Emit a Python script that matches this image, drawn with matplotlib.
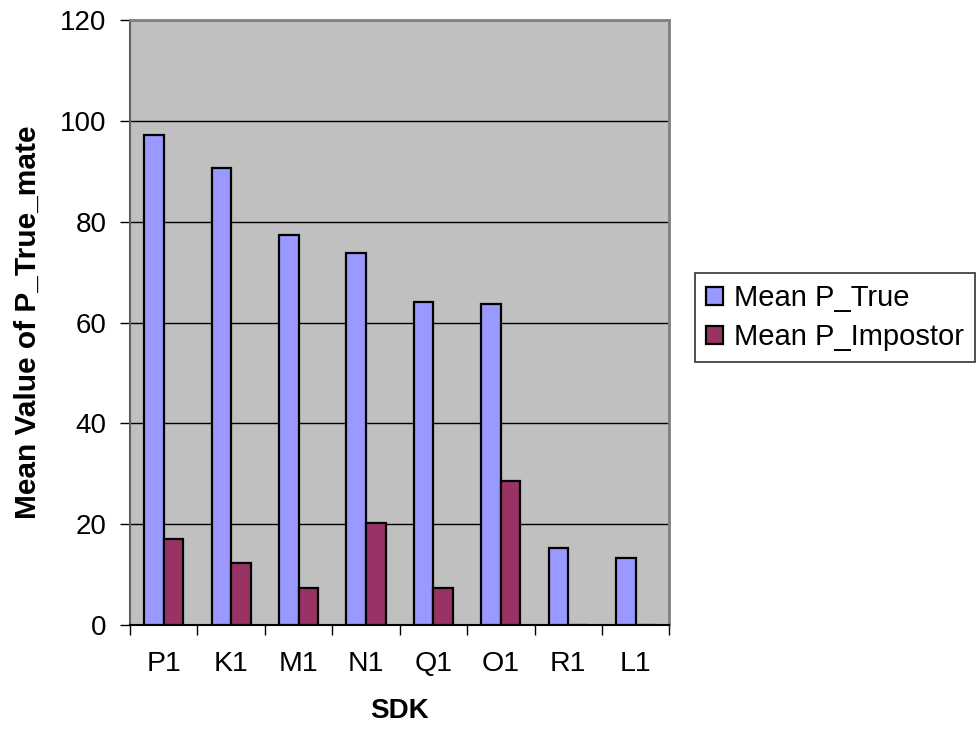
import numpy as np
import matplotlib
matplotlib.use("Agg")
import matplotlib.pyplot as plt

plt.rcParams['font.family'] = ['Liberation Sans', 'DejaVu Sans']

sdk = ["P1", "K1", "M1", "N1", "Q1", "O1", "R1", "L1"]
mean_true = [97.2, 90.7, 77.4, 73.8, 64.1, 63.6, 15.3, 13.4]
mean_impostor = [17.1, 12.4, 7.4, 20.2, 7.4, 28.5, 0, 0]

fig = plt.figure(figsize=(9.79, 7.38), dpi=100)
ax = fig.add_axes([0.1328, 0.153, 0.551, 0.820])

x = np.arange(len(sdk))
w = 0.29
ax.set_axisbelow(True)
ax.bar(x - w / 2, mean_true, w, color="#9999FF", edgecolor="black",
       linewidth=1.6, label="Mean P_True", zorder=3)
ax.bar(x + w / 2, mean_impostor, w, color="#993366", edgecolor="black",
       linewidth=1.6, label="Mean P_Impostor", zorder=3)

ax.set_facecolor("#C0C0C0")
ax.set_xlim(-0.5, len(sdk) - 0.5)
ax.set_ylim(0, 120)
ax.set_yticks(np.arange(0, 121, 20))
ax.yaxis.grid(True, color="black", linewidth=1.0)

# category boundaries as ticks, labels in the middle
ax.set_xticks(np.arange(-0.5, len(sdk), 1))
ax.set_xticklabels([])
ax.set_xticks(x, minor=True)
ax.set_xticklabels(sdk, minor=True)
ax.tick_params(axis="x", which="major", length=7, width=1, direction="out")
ax.tick_params(axis="x", which="minor", length=0, pad=19, labelsize=20.5)
ax.tick_params(axis="y", length=7, width=1, labelsize=20, pad=10)

for s in ["top", "right"]:
    ax.spines[s].set_color("#808080")
    ax.spines[s].set_linewidth(2)
ax.spines["left"].set_color("#606060")
ax.spines["left"].set_linewidth(1.5)
ax.spines["bottom"].set_color("black")
ax.spines["bottom"].set_linewidth(1.5)

ax.set_xlabel("SDK", fontsize=20, fontweight="bold", labelpad=15)
ax.set_ylabel("Mean Value of P_True_mate", fontsize=21.5, fontweight="bold", labelpad=13)

leg = fig.legend(loc="upper left", bbox_to_anchor=(0.710, 0.630), fontsize=21,
                 frameon=True, fancybox=False, edgecolor="black",
                 handlelength=0.58, handleheight=0.6, handletextpad=0.38,
                 borderpad=0.38, labelspacing=0.38, borderaxespad=0)
leg.get_frame().set_linewidth(1.2)

fig.savefig("out.png", dpi=100)
